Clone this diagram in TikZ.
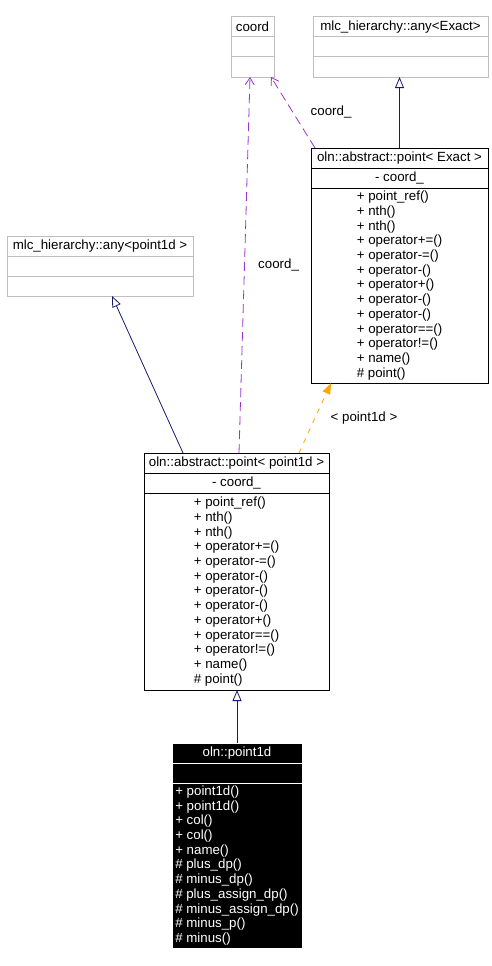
\documentclass[tikz,border=0pt]{standalone}
\usepackage{fontspec}
\setmainfont{Liberation Sans}
\usepackage{xcolor}
\definecolor{lineNavy}{HTML}{191970}
\definecolor{usePurple}{HTML}{9A32CD}
\definecolor{tmplOrange}{HTML}{FFA500}
\definecolor{boxGrey}{HTML}{BFBFBF}
\usepackage{tikz}
\usetikzlibrary{positioning,calc,arrows.meta}
\tikzset{%
  classPart/.style={%
    rectangle,
    draw=black,
    fill=white,
    line width=1pt,
    outer sep=0pt,
    inner sep=2pt,
    minimum height=20pt,
    align=left
  },
  opsPart/.style={%
    font=\fontsize{13.3}{14.7}\selectfont
  },
  hiddenPart/.style={%
    classPart,
    draw=boxGrey
  },
  focusPart/.style={%
    classPart,
    draw=white,
    fill=black,
    text=white
  },
  inheritLine/.style={%
    -{Triangle[open,fill=white,length=11pt,width=9pt]},
    line width=0.8pt,
    color=lineNavy
  },
  useLine/.style={%
    -{Straight Barb[length=7pt,width=9pt]},
    line width=0.8pt,
    dash pattern=on 9pt off 5pt,
    color=usePurple
  },
  tmplLine/.style={%
    -{Triangle[length=11pt,width=8pt]},
    line width=0.8pt,
    dash pattern=on 5pt off 6pt,
    color=tmplOrange
  }
}

\begin{document}
\begin{tikzpicture}[x=1pt,y=-1pt,font=\fontsize{13.3}{15}\selectfont]
            \useasboundingbox (0,0) rectangle (492,966);

            % coord
            \node[hiddenPart, minimum width=43pt, anchor=north west] (coordTitle) at (231,17) {coord};
            \node[hiddenPart, minimum width=43pt, below=0pt of coordTitle] (coordAttr) {};
            \node[hiddenPart, minimum width=43pt, below=0pt of coordAttr] (coordOps) {};

            % mlc_hierarchy::any<Exact>
            \node[hiddenPart, minimum width=175pt, anchor=north west] (anyExactTitle) at (313,17) {mlc\_hierarchy::any<Exact>};
            \node[hiddenPart, minimum width=175pt, below=0pt of anyExactTitle] (anyExactAttr) {};
            \node[hiddenPart, minimum width=175pt, below=0pt of anyExactAttr] (anyExactOps) {};

            % oln::abstract::point< Exact >
            \node[classPart, minimum width=177pt, anchor=north west] (exactTitle) at (311,148) {oln::abstract::point< Exact >};
            \node[classPart, minimum width=177pt, below=0pt of exactTitle] (exactAttr) {- coord\_};
            \node[classPart, opsPart, minimum width=177pt, minimum height=195pt, below=0pt of exactAttr] (exactOps)
            {+ point\_ref()\\+ nth()\\+ nth()\\+ operator+=()\\+ operator-=()\\+ operator-()\\+ operator+()\\+ operator-()\\+ operator-()\\+ operator==()\\+ operator!=()\\+ name()\\\# point()};

            % mlc_hierarchy::any<point1d >
            \node[hiddenPart, minimum width=186pt, anchor=north west] (anyPointTitle) at (7,236) {mlc\_hierarchy::any<point1d >};
            \node[hiddenPart, minimum width=186pt, below=0pt of anyPointTitle] (anyPointAttr) {};
            \node[hiddenPart, minimum width=186pt, below=0pt of anyPointAttr] (anyPointOps) {};

            % oln::abstract::point< point1d >
            \node[classPart, minimum width=185pt, anchor=north west] (absPointTitle) at (144,453) {oln::abstract::point< point1d >};
            \node[classPart, minimum width=185pt, below=0pt of absPointTitle] (absPointAttr) {- coord\_};
            \node[classPart, opsPart, minimum width=185pt, minimum height=197pt, below=0pt of absPointAttr] (absPointOps)
            {+ point\_ref()\\+ nth()\\+ nth()\\+ operator+=()\\+ operator-=()\\+ operator-()\\+ operator-()\\+ operator-()\\+ operator+()\\+ operator==()\\+ operator!=()\\+ name()\\\# point()};

            % oln::point1d
            \node[focusPart, minimum width=130pt, anchor=north west] (pointTitle) at (172,743) {oln::point1d};
            \node[focusPart, minimum width=130pt, below=0pt of pointTitle] (pointAttr) {};
            \node[focusPart, opsPart, minimum width=130pt, minimum height=165pt, below=0pt of pointAttr] (pointOps)
            {+ point1d()\\+ point1d()\\+ col()\\+ col()\\+ name()\\\# plus\_dp()\\\# minus\_dp()\\\# plus\_assign\_dp()\\\# minus\_assign\_dp()\\\# minus\_p()\\\# minus()};

            \draw[inheritLine] (exactTitle.north) -- (exactTitle.north |- anyExactOps.south);
            \draw[useLine] ([xshift=4pt]exactTitle.north west) -- node[midway, right=14pt, text=black]{coord\_} ([xshift=-3pt]coordOps.south east);
            \draw[useLine] ([xshift=95pt]absPointTitle.north west) -- node[midway, right=10pt, text=black]{coord\_} ([xshift=-2.5pt]coordOps.south);
            \draw[inheritLine] ([xshift=39pt]absPointTitle.north west) -- ([xshift=12pt]anyPointOps.south);
            \draw[tmplLine] ([xshift=155pt]absPointTitle.north west) -- node[midway, right=12pt, text=black]{< point1d >} ([xshift=20pt]exactOps.south west);
            \draw[inheritLine] (pointTitle.north) -- (pointTitle.north |- absPointOps.south);

        \end{tikzpicture}
\end{document}
